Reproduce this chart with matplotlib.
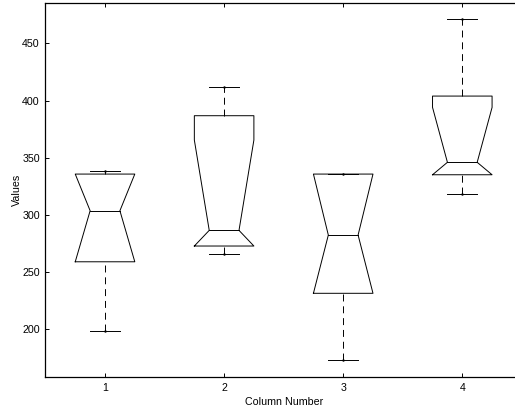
import numpy as np
import matplotlib
matplotlib.use('Agg')
import matplotlib.pyplot as plt

plt.rcParams['font.family'] = ['Liberation Sans', 'DejaVu Sans']
plt.rcParams['lines.scale_dashes'] = False

# values
columns = [1, 2, 3, 4]
q1 = [258.8, 272.6, 231.2, 335.0]
median = [303.5, 286.3, 282.2, 345.9]
q3 = [335.6, 386.7, 335.6, 403.9]
notch_lo = [258.8, 272.6, 231.2, 335.0]   # clipped to the box
notch_hi = [335.6, 365.4, 335.6, 394.0]
whisker_lo = [198.2, 265.3, 172.5, 318.4]
whisker_hi = [338.0, 412.0, 335.6, 471.0]

w = 0.25      # half box width
cap = 0.125   # half cap width

fig = plt.figure(figsize=(5.15, 4.09), dpi=100)
ax = fig.add_axes([0.0883, 0.0782, 0.925, 0.9156])

for i, x in enumerate(columns):
    xs = [x - w, x - w, x - w / 2, x - w, x - w, x + w, x + w, x + w / 2, x + w, x + w, x - w]
    ys = [q1[i], notch_lo[i], median[i], notch_hi[i], q3[i], q3[i], notch_hi[i], median[i],
          notch_lo[i], q1[i], q1[i]]
    ax.plot(xs, ys, color='black', lw=0.7)
    ax.plot([x - w / 2, x + w / 2], [median[i], median[i]], color='black', lw=0.7)
    # whiskers
    ax.plot([x, x], [q3[i], whisker_hi[i]], color='black', lw=0.7, dashes=(5, 3.5))
    ax.plot([x, x], [whisker_lo[i], q1[i]], color='black', lw=0.7, dashes=(5, 3.5))
    for v in (whisker_lo[i], whisker_hi[i]):
        ax.plot([x - cap, x + cap], [v, v], color='black', lw=0.7)
        ax.plot([x], [v], marker='.', ms=1.5, color='black')

ax.set_xlim(0.5, 4.5)
ax.set_ylim(157.9, 485.8)
ax.set_xticks(columns)
ax.set_yticks([200, 250, 300, 350, 400, 450])
ax.tick_params(direction='in', length=3, width=0.7, labelsize=7.7, pad=4,
               top=True, right=True)
for s in ax.spines.values():
    s.set_linewidth(0.9)
ax.set_xlabel('Column Number', fontsize=7.7, labelpad=3)
ax.set_ylabel('Values', fontsize=7.7, labelpad=0)

fig.savefig('out.png', dpi=100)
